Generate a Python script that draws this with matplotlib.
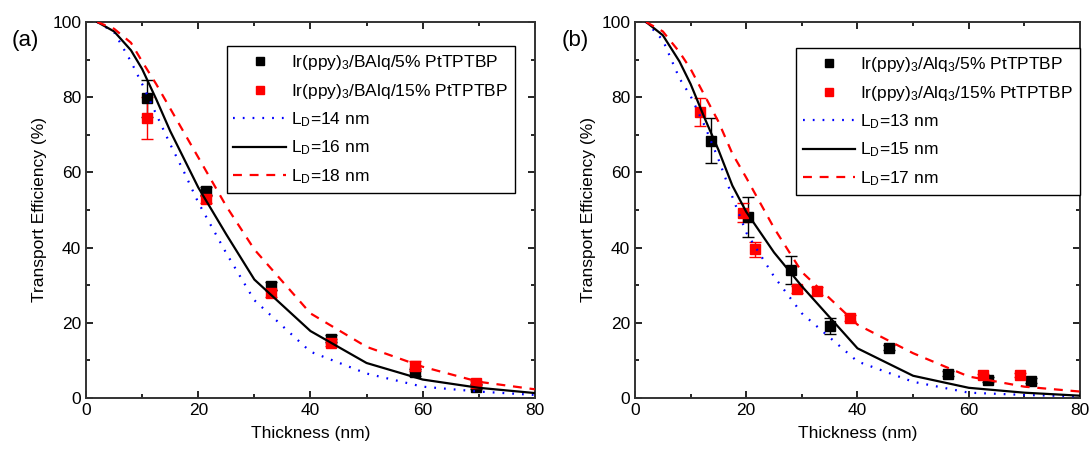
import numpy as np
import matplotlib
matplotlib.use('Agg')
import matplotlib.pyplot as plt

plt.rcParams['font.family'] = ['Liberation Sans', 'DejaVu Sans']
plt.rcParams['mathtext.fontset'] = 'custom'
plt.rcParams['mathtext.rm'] = 'Liberation Sans'
plt.rcParams['mathtext.it'] = 'Liberation Sans'

# ---- panel (a) data ----
a_x5 = [10.8, 21.4, 33.0, 43.6, 58.7, 69.5]
a_y5 = [79.7, 55.0, 29.8, 15.8, 6.8, 3.0]
a_e5 = [5.0, 1.0, 1.0, 1.0, 1.0, 0.6]
a_x15 = [10.8, 21.4, 33.0, 43.6, 58.7, 69.5]
a_y15 = [74.5, 52.8, 27.8, 14.7, 8.4, 4.0]
a_e15 = [5.5, 1.0, 1.0, 1.0, 1.3, 0.6]

a_cx = [2, 5, 8, 10, 12.5, 15, 17.5, 20, 25, 30, 40, 50, 60, 70, 80]
a_l14 = [100, 97.3, 89.5, 83.5, 75.5, 67.5, 60, 52, 38.5, 26, 12.3, 6.5, 3.0, 1.7, 0.8]
a_l16 = [100, 97.5, 92.5, 87.5, 79.5, 71, 63.5, 56, 43.5, 31.5, 17.8, 9.3, 4.9, 2.7, 1.3]
a_l18 = [100, 98.2, 94.5, 89.5, 83.5, 77, 70.5, 64, 51, 39.5, 22.5, 13.6, 8.3, 4.3, 2.3]

# ---- panel (b) data ----
b_x5 = [13.6, 20.4, 28.0, 35.1, 45.7, 56.3, 63.4, 71.2]
b_y5 = [68.4, 48.1, 34.0, 19.2, 13.4, 6.5, 4.9, 4.6]
b_e5 = [6.0, 5.3, 3.8, 2.1, 0.6, 0.6, 0.6, 0.6]
b_x15 = [11.6, 19.5, 21.6, 29.2, 32.7, 38.7, 62.5, 69.2]
b_y15 = [76.1, 49.3, 39.6, 28.9, 28.4, 21.3, 6.0, 6.2]
b_e15 = [3.8, 2.5, 2.0, 1.0, 1.0, 0.8, 0.5, 0.5]

b_cx = [2, 5, 8, 10, 12.5, 15, 17.5, 20, 25, 30, 40, 50, 60, 70, 80]
b_l13 = [100, 95.2, 85, 80.3, 72.5, 63.5, 53.5, 44, 32.3, 22.5, 9.7, 4.3, 1.4, 0.8, 0.4]
b_l15 = [100, 96.5, 89.5, 83.5, 74.5, 66, 56.5, 49.5, 38.7, 29.7, 13.2, 5.9, 2.7, 1.4, 0.6]
b_l17 = [100, 97.5, 92, 87.5, 80.5, 73.5, 65, 58.6, 45.2, 33.5, 19.5, 11.9, 5.7, 3.0, 1.7]

fig = plt.figure(figsize=(10.92, 4.59), dpi=100)
axa = fig.add_axes([0.0788, 0.133, 0.411, 0.819])
axb = fig.add_axes([0.5815, 0.133, 0.4075, 0.819])


def panel(ax, x5, y5, e5, x15, y15, e15, cx, lo, mid, hi, names, labels, tag):
    p1 = ax.errorbar(x5, y5, yerr=e5, fmt='s', color='black', ms=7, capsize=4,
                     elinewidth=1, capthick=1, zorder=3)
    p2 = ax.errorbar(x15, y15, yerr=e15, fmt='s', color='red', ms=7, capsize=4,
                     elinewidth=1, capthick=1, zorder=3)
    l1, = ax.plot(cx, lo, color='blue', lw=1.6, linestyle=(0, (0.8, 3.6)), zorder=4)
    l2, = ax.plot(cx, mid, color='black', lw=1.6, zorder=4)
    l3, = ax.plot(cx, hi, color='red', lw=1.6, linestyle=(0, (4, 3.5)), zorder=4)
    ax.set_xlim(0, 80)
    ax.set_ylim(0, 100)
    ax.set_xticks([0, 20, 40, 60, 80])
    ax.set_xticks([10, 30, 50, 70], minor=True)
    ax.set_yticks([0, 20, 40, 60, 80, 100])
    ax.set_yticks([10, 30, 50, 70, 90], minor=True)
    ax.tick_params(which='both', direction='in', top=True, right=True, labelsize=12.5, width=1.2)
    ax.tick_params(which='major', length=5)
    ax.tick_params(which='minor', length=3)
    for s in ax.spines.values():
        s.set_linewidth(1.4)
        s.set_color('#333333')
    ax.set_xlabel('Thickness (nm)', fontsize=12.5, labelpad=6)
    ax.set_ylabel('Transport Efficiency (%)', fontsize=12.5, labelpad=4)
    ax.text(-0.165, 0.95, tag, transform=ax.transAxes, fontsize=16, va='center')
    return [p1[0], p2[0], l1, l2, l3], names + labels


ha, la = panel(axa, a_x5, a_y5, a_e5, a_x15, a_y15, a_e15, a_cx, a_l14, a_l16, a_l18,
               ['Ir(ppy)$_3$/BAlq/5% PtTPTBP', 'Ir(ppy)$_3$/BAlq/15% PtTPTBP'],
               ['L$_\\mathrm{D}$=14 nm', 'L$_\\mathrm{D}$=16 nm', 'L$_\\mathrm{D}$=18 nm'], '(a)')
hb, lb = panel(axb, b_x5, b_y5, b_e5, b_x15, b_y15, b_e15, b_cx, b_l13, b_l15, b_l17,
               ['Ir(ppy)$_3$/Alq$_3$/5% PtTPTBP', 'Ir(ppy)$_3$/Alq$_3$/15% PtTPTBP'],
               ['L$_\\mathrm{D}$=13 nm', 'L$_\\mathrm{D}$=15 nm', 'L$_\\mathrm{D}$=17 nm'], '(b)')

for ax, h, l, anchor in [(axa, ha, la, (0.955, 0.935)), (axb, hb, lb, (1.0, 0.93))]:
    leg = ax.legend(h, l, loc='upper right', bbox_to_anchor=anchor, fontsize=12.5,
                    frameon=True, fancybox=False, framealpha=1, edgecolor='black',
                    handlelength=3.0, handletextpad=0.3, borderpad=0.4,
                    labelspacing=0.55, borderaxespad=0, numpoints=1, markerscale=0.75)
    leg.get_frame().set_linewidth(1.0)

fig.savefig('out.png', dpi=100)
